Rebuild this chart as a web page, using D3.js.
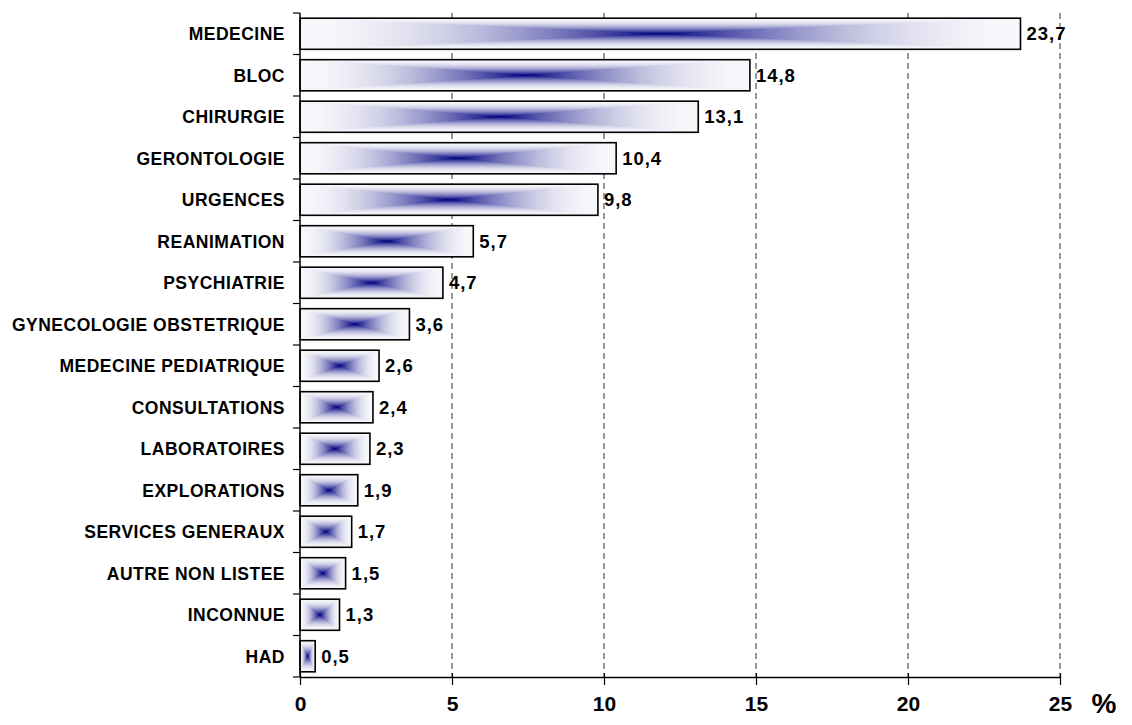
<!DOCTYPE html>
<html>
<head>
<meta charset="utf-8">
<script src="https://cdn.jsdelivr.net/npm/d3@7"></script>
<style>
  html, body { margin: 0; padding: 0; background: #fff; }
  svg { display: block; font-family: "Liberation Sans", Arial, sans-serif; }
</style>
</head>
<body>
<svg id="chart" width="1132" height="725"></svg>
<script>
// Répartition par service (%)
const categories = [
  "MEDECINE", "BLOC", "CHIRURGIE", "GERONTOLOGIE", "URGENCES", "REANIMATION",
  "PSYCHIATRIE", "GYNECOLOGIE OBSTETRIQUE", "MEDECINE PEDIATRIQUE", "CONSULTATIONS",
  "LABORATOIRES", "EXPLORATIONS", "SERVICES GENERAUX", "AUTRE NON LISTEE",
  "INCONNUE", "HAD"
];
const values = [23.7, 14.8, 13.1, 10.4, 9.8, 5.7, 4.7, 3.6, 2.6, 2.4, 2.3, 1.9, 1.7, 1.5, 1.3, 0.5];
const xTicks = [0, 5, 10, 15, 20, 25];

const svg = d3.select("#chart");
const margin = { left: 300, right: 72, top: 13, bottom: 48 };
const W = 1132, H = 725;

const x = d3.scaleLinear().domain([0, 25]).range([margin.left, W - margin.right]);
const y = d3.scaleBand().domain(categories).range([margin.top, H - margin.bottom])
  .paddingInner(0.25).paddingOuter(0.125);

const fmt = v => d3.format(".1f")(v).replace(".", ",");

// Rectangular "from centre" fill: a horizontal base gradient plus
// top/bottom wedges with vertical gradients of the same profile.
const defs = svg.append("defs");
const shade = d => d3.rgb(255 * (1 - d), 255 * (1 - d), 255 - 127 * d).toString();
const profile = d3.range(0, 1.0001, 0.1).map(t => [t, shade(0.03 + 0.97 * t * t)]);
function grad(id, x1, y1, x2, y2, stops) {
  const g = defs.append("linearGradient").attr("id", id)
    .attr("x1", x1).attr("y1", y1).attr("x2", x2).attr("y2", y2);
  stops.forEach(s => g.append("stop").attr("offset", s[0]).attr("stop-color", s[1]));
}
grad("gH", 0, 0, 1, 0, profile.map(([t, c]) => [t / 2, c])
  .concat(profile.slice().reverse().map(([t, c]) => [1 - t / 2, c])));
grad("gTop", 0, 0, 0, 1, profile);
grad("gBot", 0, 1, 0, 0, profile);

// Grid lines
svg.append("g").selectAll("line").data(xTicks.filter(t => t > 0)).join("line")
  .attr("x1", d => x(d)).attr("x2", d => x(d))
  .attr("y1", margin.top).attr("y2", H - margin.bottom)
  .attr("stroke", "#333").attr("stroke-width", 1).attr("stroke-dasharray", "6,4");

// Bars
const bars = svg.append("g").selectAll("g").data(categories).join("g");
bars.each(function (c, i) {
  const g = d3.select(this);
  const x0 = x(0), x1 = x(values[i]);
  const y0 = y(c), h = y.bandwidth(), y1 = y0 + h;
  const cx = (x0 + x1) / 2, cy = y0 + h / 2;
  g.append("rect").attr("x", x0).attr("y", y0).attr("width", x1 - x0).attr("height", h)
    .attr("fill", "url(#gH)");
  g.append("polygon").attr("points", [[x0, y0], [x1, y0], [cx, cy]].map(p => p.join(",")).join(" "))
    .attr("fill", "url(#gTop)");
  g.append("polygon").attr("points", [[x0, y1], [x1, y1], [cx, cy]].map(p => p.join(",")).join(" "))
    .attr("fill", "url(#gBot)");
  g.append("rect").attr("x", x0).attr("y", y0).attr("width", x1 - x0).attr("height", h)
    .attr("fill", "none").attr("stroke", "#000").attr("stroke-width", 1.6);
  g.append("text").attr("x", x1 + 6).attr("y", cy).attr("dy", "0.36em")
    .attr("font-size", 18.5).attr("font-weight", "bold").attr("letter-spacing", 1)
    .attr("fill", "#000").text(fmt(values[i]));
});

// Y axis (category labels, ticks at band boundaries)
const yAxis = svg.append("g");
yAxis.append("line").attr("x1", x(0)).attr("x2", x(0))
  .attr("y1", margin.top).attr("y2", H - margin.bottom).attr("stroke", "#000").attr("stroke-width", 1.5);
const step = y.step();
const bounds = d3.range(categories.length + 1).map(i => margin.top + i * step);
yAxis.selectAll("line.tk").data(bounds).join("line").attr("class", "tk")
  .attr("x1", x(0) - 7).attr("x2", x(0)).attr("y1", d => d).attr("y2", d => d)
  .attr("stroke", "#000").attr("stroke-width", 1.2);
yAxis.selectAll("text").data(categories).join("text")
  .attr("x", 285).attr("y", d => y(d) + y.bandwidth() / 2).attr("dy", "0.36em")
  .attr("text-anchor", "end").attr("font-size", 17.5).attr("font-weight", "bold")
  .attr("letter-spacing", 0.5).text(d => d);

// X axis
const xAxis = svg.append("g").attr("transform", `translate(0,${H - margin.bottom})`)
  .call(d3.axisBottom(x).tickValues(xTicks).tickSize(7).tickSizeOuter(0).tickFormat(d3.format("d")));
xAxis.select(".domain").attr("stroke", "#000").attr("stroke-width", 1.5);
xAxis.selectAll(".tick line").attr("y1", -4).attr("y2", 8).attr("stroke", "#000").attr("stroke-width", 1.2);
xAxis.selectAll(".tick text").attr("y", 34).attr("dy", null)
  .attr("font-size", 21).attr("font-weight", "bold").attr("font-family", "Liberation Sans, Arial, sans-serif")
  .attr("fill", "#000");

svg.append("text").attr("x", 1104).attr("y", 713).attr("text-anchor", "middle")
  .attr("font-size", 28).attr("font-weight", "bold").text("%");
</script>
</body>
</html>
